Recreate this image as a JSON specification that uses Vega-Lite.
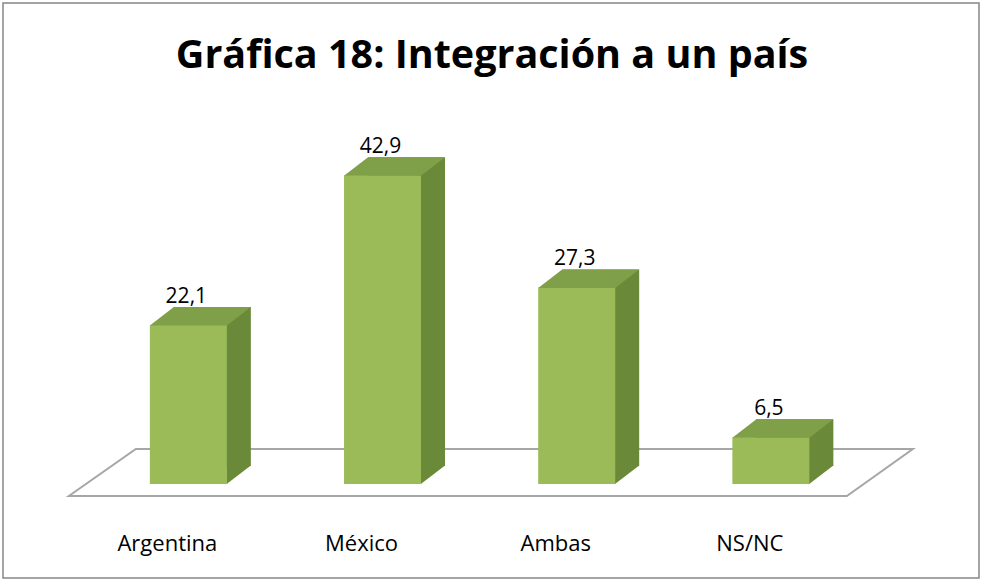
{
  "$schema": "https://vega.github.io/schema/vega-lite/v6.json",
  "autosize": {"type": "none"},
  "width": 976,
  "height": 575,
  "padding": {"left": 3, "top": 3, "right": 4, "bottom": 10},
  "background": "white",
  "config": {
    "locale": {"number": {"decimal": ",", "thousands": ".", "grouping": [3], "currency": ["", " €"]}},
    "view": {"stroke": "#868686", "strokeWidth": 1.5}
  },
  "title": {
    "text": "Gráfica 18: Integración a un país",
    "font": "Open Sans",
    "fontWeight": "bold",
    "fontSize": 39.5,
    "color": "#000000",
    "anchor": "middle",
    "frame": "group",
    "orient": "top",
    "offset": 0,
    "baseline": "alphabetic",
    "dy": 104,
    "dx": 1
  },
  "data": {
    "values": [
      {"cat": "Argentina", "v": 22.1},
      {"cat": "México", "v": 42.9},
      {"cat": "Ambas", "v": 27.3},
      {"cat": "NS/NC", "v": 6.5}
    ]
  },
  "encoding": {
    "x": {
      "field": "cat",
      "type": "nominal",
      "sort": null,
      "scale": {"paddingInner": 0.6035, "paddingOuter": 0.815, "align": 0.464},
      "axis": {
        "title": null,
        "domain": false,
        "ticks": false,
        "grid": false,
        "labelAngle": 0,
        "labelFont": "Open Sans",
        "labelFontSize": 22,
        "labelColor": "#000000",
        "labelBaseline": "alphabetic",
        "offset": -45,
        "labelPadding": 17,
        "labelOffset": -21
      }
    }
  },
  "layer": [
    {
      "transform": [{"filter": "datum.cat === 'Argentina'"}],
      "mark": {"type": "point", "shape": "M-119.5,12L-52.5,-35L724.5,-35L658.5,12Z", "size": 4, "filled": false, "stroke": "#A6A6A6", "strokeWidth": 2, "opacity": 1},
      "encoding": {"y": {"datum": 0, "type": "quantitative", "scale": {"domain": [-13.06, 66.81], "nice": false, "zero": false}, "axis": null}}
    },
    {
      "mark": {"type": "bar", "color": "#6A8A3A", "xOffset": 24, "yOffset": -18, "y2Offset": -18},
      "encoding": {
        "y": {"field": "v", "type": "quantitative", "scale": {"domain": [-13.06, 66.81], "nice": false, "zero": false}, "axis": null},
        "y2": {"datum": 0}
      }
    },
    {
      "mark": {"type": "point", "shape": "M38,-18.5L38,0.3L62.5,-18.5Z", "size": 4, "filled": true, "color": "#6A8A3A", "opacity": 1, "strokeWidth": 0},
      "encoding": {"y": {"datum": 0, "type": "quantitative"}}
    },
    {
      "mark": {"type": "bar", "color": "#9BBB59"},
      "encoding": {
        "y": {"field": "v", "type": "quantitative"},
        "y2": {"datum": 0}
      }
    },
    {
      "mark": {"type": "point", "shape": "M-38.5,0.5L38.5,0.5L62.5,-18L-14.5,-18Z", "size": 4, "filled": true, "color": "#7F9F48", "opacity": 1, "strokeWidth": 0},
      "encoding": {"y": {"field": "v", "type": "quantitative"}}
    },
    {
      "mark": {"type": "text", "font": "Open Sans", "fontSize": 21, "color": "#000000", "baseline": "alphabetic", "dy": -22, "dx": -2},
      "encoding": {
        "y": {"field": "v", "type": "quantitative"},
        "text": {"field": "v", "type": "quantitative", "format": ".1f"}
      }
    }
  ]
}
